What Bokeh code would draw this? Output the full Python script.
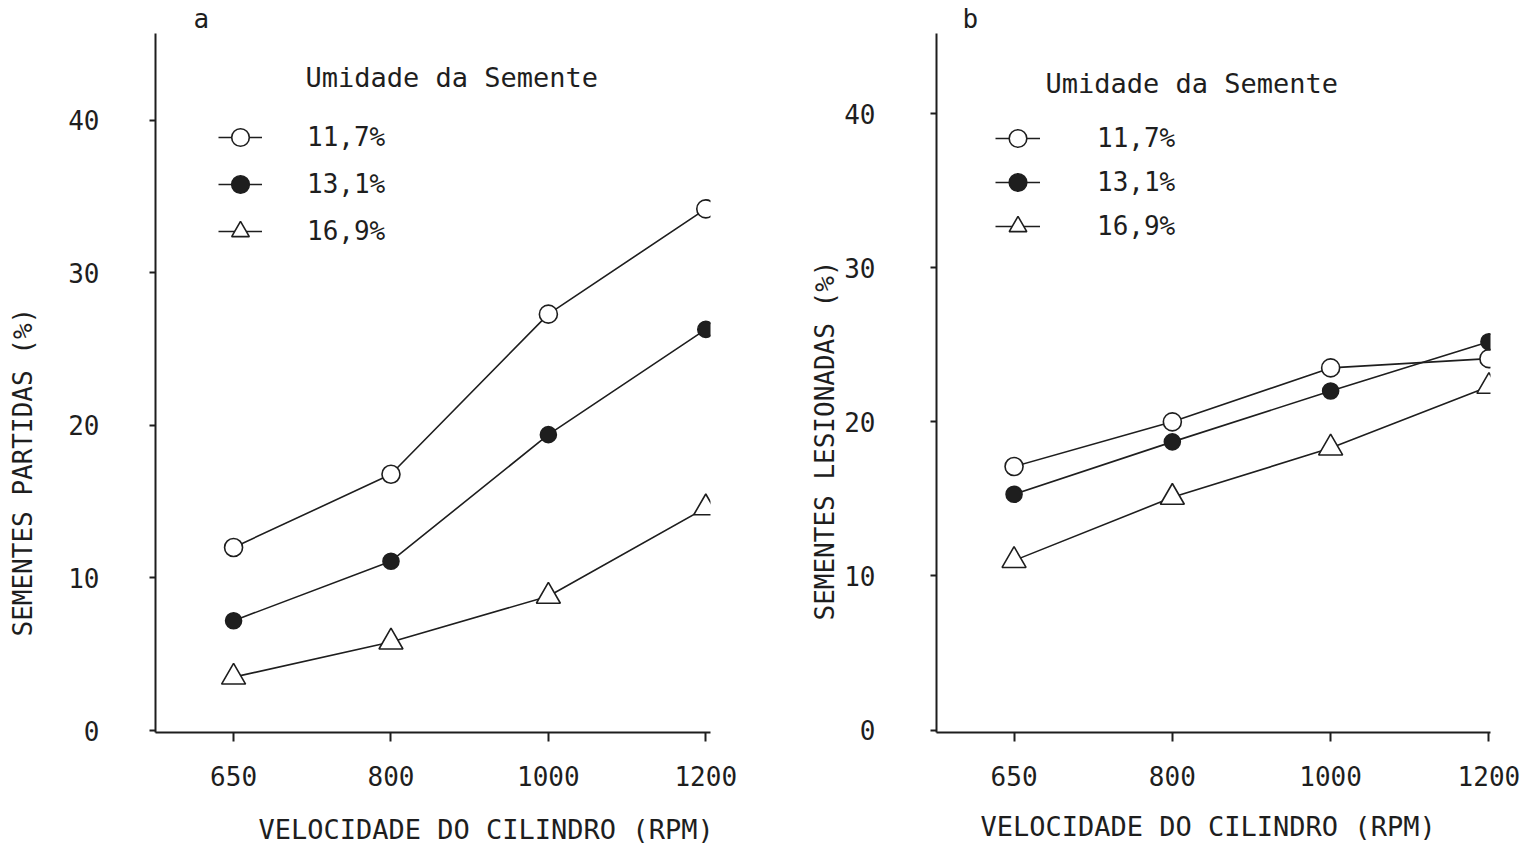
import math
from bokeh.plotting import figure
from bokeh.models import FixedTicker, Label, Legend, LegendItem, Range1d, Title
from bokeh.layouts import row
from bokeh.embed import file_html
from bokeh.resources import INLINE

# ---------------- data ----------------
rpm = ["650", "800", "1000", "1200"]
moisture = ["11,7%", "13,1%", "16,9%"]
yticks = [0, 10, 20, 30, 40]

# panel a: SEMENTES PARTIDAS (%)
broken_117 = [12.0, 16.8, 27.3, 34.2]
broken_131 = [7.2, 11.1, 19.4, 26.3]
broken_169 = [3.5, 5.8, 8.8, 14.6]

# panel b: SEMENTES LESIONADAS (%)
injured_117 = [17.1, 20.0, 23.5, 24.1]
injured_131 = [15.3, 18.7, 22.0, 25.2]
injured_169 = [11.0, 15.1, 18.3, 22.3]

FONT = "DejaVu Sans Mono"
INK = "#1e1e1e"
FS = "26px"


def make_panel(letter, series, ylabel, cfg):
    p = figure(width=766, height=845, output_backend="svg", toolbar_location=None,
               x_range=Range1d(cfg["x0"], cfg["x1"]), y_range=Range1d(cfg["y0"], cfg["y1"]),
               min_border_left=cfg["bl"], min_border_right=cfg["br"],
               min_border_top=33, min_border_bottom=113)
    p.grid.visible = False
    p.outline_line_color = None
    p.background_fill_color = "white"
    p.border_fill_color = "white"

    xs = list(range(len(rpm)))
    styles = [
        dict(marker="circle", size=18, fill_color="white"),
        dict(marker="circle", size=16, fill_color=INK),
        dict(marker="triangle", size=24, fill_color="white"),
    ]
    items = []
    for name, ys, st in zip(moisture, series, styles):
        lr = p.line(xs, ys, line_color=INK, line_width=1.6)
        sr = p.scatter(xs, ys, marker=st["marker"], size=st["size"],
                       fill_color=st["fill_color"], line_color=INK, line_width=1.6)
        items.append(LegendItem(label=name, renderers=[lr, sr]))

    # axes
    for ax in (p.xaxis[0], p.yaxis[0]):
        ax.axis_line_width = 2
        ax.axis_line_color = INK
        ax.major_tick_line_color = INK
        ax.major_tick_line_width = 2
        ax.minor_tick_line_color = None
        ax.major_tick_in = 0
        ax.major_label_text_font = FONT
        ax.major_label_text_font_size = FS
        ax.major_label_text_color = INK
    p.xaxis.ticker = FixedTicker(ticks=xs)
    p.xaxis.major_label_overrides = {i: r for i, r in enumerate(rpm)}
    p.xaxis.major_tick_out = 9
    p.xaxis.major_label_standoff = 24
    p.yaxis.ticker = FixedTicker(ticks=yticks)
    p.yaxis.major_tick_out = 6
    p.yaxis.major_label_standoff = cfg["ystand"]

    legend = Legend(items=items, location=cfg["leg_loc"], orientation="vertical",
                    background_fill_alpha=0, border_line_color=None,
                    glyph_width=cfg["gw"], glyph_height=cfg["gh"], label_height=cfg["gh"],
                    spacing=cfg["spacing"], padding=0, margin=0,
                    label_standoff=cfg["lstand"],
                    label_text_font=FONT, label_text_font_size=FS,
                    label_text_color=INK)
    p.add_layout(legend)

    p.add_layout(Label(x=cfg["title_xy"][0], y=cfg["title_xy"][1], x_units="screen", y_units="screen",
                       text="Umidade da Semente", text_font=FONT, text_font_size="27px",
                       text_color=INK, text_align="left", text_baseline="middle"))

    # panel letter, axis titles as plot titles on the sides
    p.add_layout(Title(text=letter, align="left", offset=cfg["letter_off"], standoff=0,
                       text_font=FONT, text_font_size="26px", text_font_style="normal",
                       text_color=INK), "above")
    p.add_layout(Title(text="VELOCIDADE DO CILINDRO (RPM)", align="left", offset=cfg["xlab_off"],
                       standoff=0, padding=dict(left=0, right=0, top=cfg["xlab_pad"], bottom=0),
                       text_font=FONT, text_font_size="27px",
                       text_font_style="normal", text_color=INK), "below")
    p.add_layout(Title(text=ylabel, align="left", offset=cfg["ylab_off"], standoff=4,
                       padding=dict(left=0, right=0, top=0, bottom=cfg["ylab_pad"]),
                       text_font=FONT, text_font_size=FS, text_font_style="normal",
                       text_color=INK), "left")
    return p


cfg_a = dict(x0=-0.496, x1=3.03, y0=-0.13, y1=45.7, bl=155, br=56, ystand=50,
             leg_loc=(63, 478), gw=44, gh=46, spacing=1, lstand=45,
             title_xy=(150, 655), letter_off=38, xlab_off=103, xlab_pad=23,
             ylab_off=96, ylab_pad=26)
cfg_b = dict(x0=-0.49, x1=3.01, y0=-0.16, y1=45.2, bl=170, br=42, ystand=55,
             leg_loc=(59, 484), gw=45, gh=44, spacing=0, lstand=57,
             title_xy=(109, 649), letter_off=26, xlab_off=44, xlab_pad=20,
             ylab_off=112, ylab_pad=0)

pa = make_panel("a", [broken_117, broken_131, broken_169], "SEMENTES PARTIDAS (%)", cfg_a)
pb = make_panel("b", [injured_117, injured_131, injured_169], "SEMENTES LESIONADAS (%)", cfg_b)

layout = row(pa, pb)
open("out.html", "w").write(file_html(layout, INLINE))
